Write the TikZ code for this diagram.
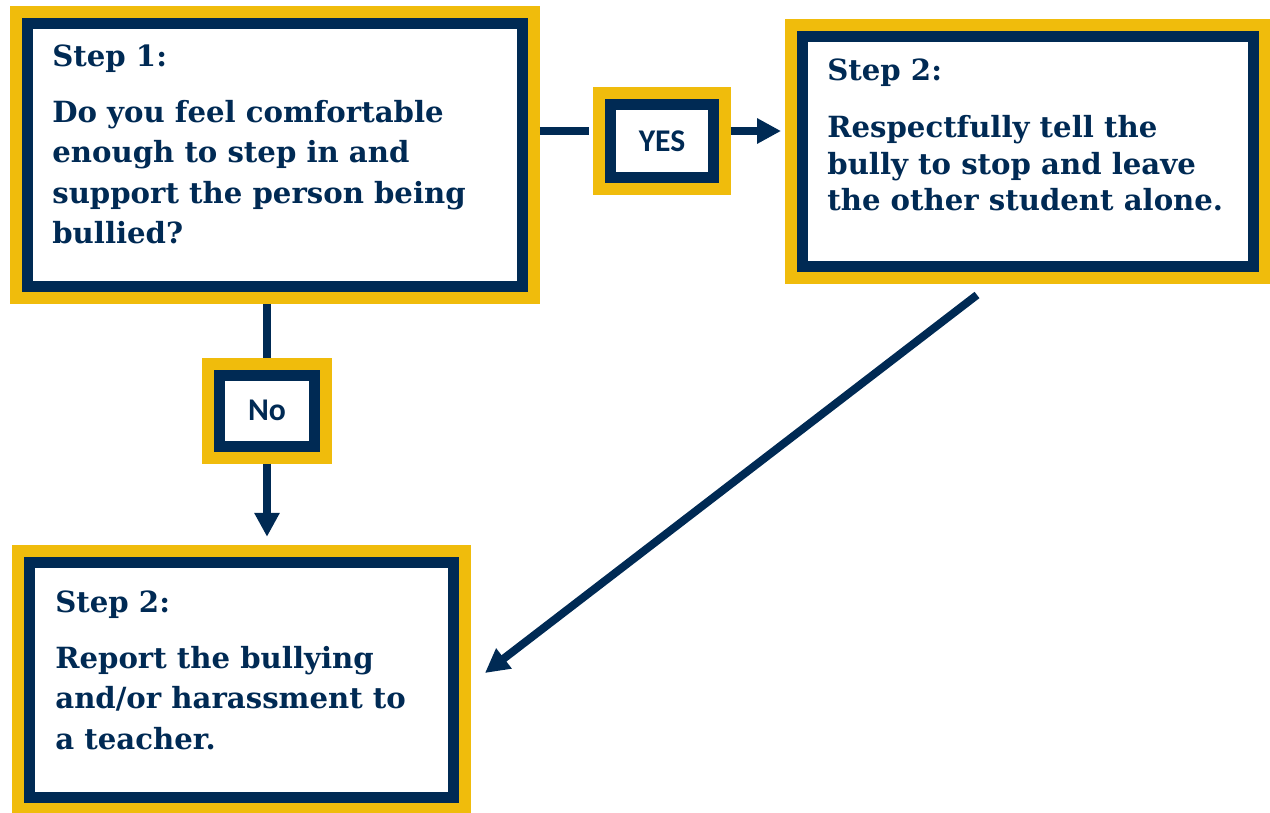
\documentclass[tikz,border=0pt]{standalone}
\usepackage{fontspec}
\setmainfont{DejaVu Serif}
\newfontfamily\answerfont{Carlito}
\usetikzlibrary{arrows.meta,calc}

\definecolor{navy}{RGB}{0,42,84}
\definecolor{gold}{RGB}{240,188,12}

\tikzset{
  framebox/.style={draw=navy, line width=0.22cm, fill=white, outer sep=0.35cm,
    preaction={draw=gold, line width=0.7cm}},
  steptext/.style={anchor=north west, inner sep=0pt, align=left, text=navy,
    font=\bfseries\fontsize{16.6}{23}\selectfont},
  answer/.style={framebox, text=navy, font=\answerfont\bfseries\fontsize{18}{20}\selectfont},
  link/.style={draw=navy, line width=0.16cm},
  arrowlink/.style={link, -{Triangle[length=0.48cm,width=0.48cm]}}
}

\begin{document}
\begin{tikzpicture}[x=0.02cm, y=-0.02cm]
        \useasboundingbox (0,0) rectangle (1270,812);

        % boxes
        \node[framebox, minimum width=9.9cm, minimum height=5.27cm] (box1) at (275,154.75) {};
        \node[framebox, minimum width=9.02cm, minimum height=4.6cm] (box2) at (1028,151.5) {};
        \node[framebox, minimum width=8.48cm, minimum height=4.69cm] (box3) at (241.5,680) {};
        \node[answer, minimum width=2.06cm, minimum height=1.47cm] (yes) at (662,141) {YES};
        \node[answer, minimum width=1.89cm, minimum height=1.42cm] (no) at (267,410.5) {No};

        % texts
        \node[steptext] (step1) at (52,44) {Step 1:\\[9pt]
            Do you feel comfortable\\ enough to step in and\\ support the person being\\ bullied?};
        \node[steptext, font=\bfseries\fontsize{16.6}{20.8}\selectfont] (step2yes) at (827,58) {Step 2:\\[12pt]
            Respectfully tell the\\ bully to stop and leave\\ the other student alone.};
        \node[steptext] (step2no) at (55,590) {Step 2:\\[9pt]
            Report the bullying\\ and/or harassment to\\ a teacher.};

        % connectors
        \coordinate (yesrow) at (0,131);
        \draw[link] (box1.east |- yesrow) -- ([xshift=-0.08cm]yes.west |- yesrow);
        \draw[arrowlink, shorten >=0.08cm] (yes.east |- yesrow) -- (box2.west |- yesrow);
        \draw[link] (no.north |- box1.south) -- (no.north);
        \draw[arrowlink, shorten >=0.17cm] (no.south) -- (no.south |- box3.north);
        \draw[arrowlink] ($(box2.south)+(-51,11)$) -- ($(box3.east)+(14,-7)$);
\end{tikzpicture}
\end{document}
